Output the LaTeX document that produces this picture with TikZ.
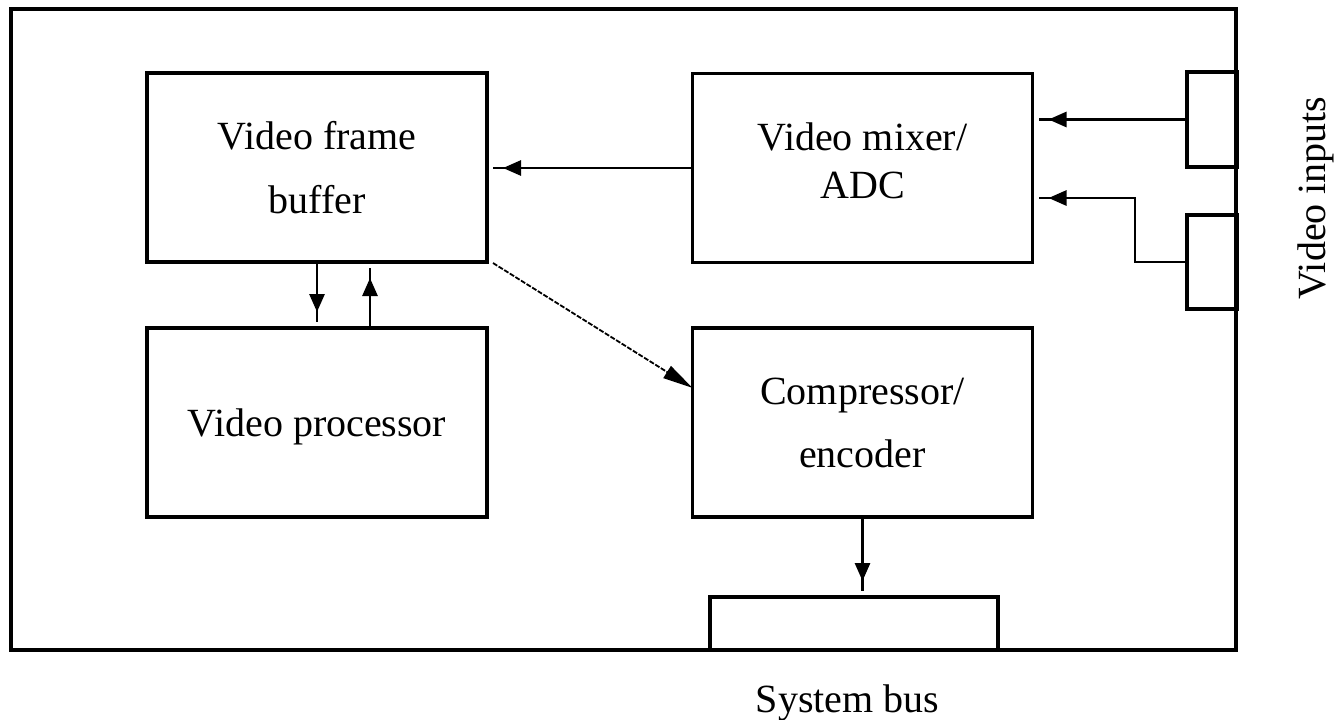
\documentclass[tikz,border=0pt]{standalone}
\usepackage{fontspec}
\setmainfont{Liberation Serif}
\usetikzlibrary{arrows.meta,calc,decorations.markings}

\tikzset{
  card/.style={draw, line width=2pt, inner sep=0pt, outer sep=0pt,
    minimum width=612.5pt, minimum height=320.5pt},
  block/.style={draw, line width=1.6pt, inner sep=0pt, outer sep=0pt,
    minimum width=170pt, minimum height=94.5pt, align=center,
    font=\fontsize{20}{24}\selectfont},
  port/.style={draw, line width=1.6pt, inner sep=0pt, outer sep=0pt},
  caption/.style={font=\fontsize{20}{24}\selectfont, inner sep=0pt},
  % signal line: gap before the target, short stub beyond the head
  flow/.style={line width=1.4pt, shorten >=3pt,
    postaction={decorate},
    decoration={markings,
      mark=at position -8pt with {\arrow{Triangle[length=9pt,width=7.5pt]}}}},
  link/.style={line width=0.9pt, dash pattern=on 2.5pt off 0.8pt,
    -{Triangle[length=15pt,width=7pt]}},
}

\begin{document}
\begin{tikzpicture}[x=0.5pt,y=-0.5pt]
\useasboundingbox (0,0) rectangle (1336,719);

% capture card outline
\node[card] (board) at (623.5,329.5) {};

% functional blocks
\node[block] (buf)  at (317,167.5)   {Video frame\\[8pt]buffer};
\node[block, text depth=7pt] (mix) at (862.5,168) {Video mixer/\\ADC};
\node[block, text depth=0pt] (proc) at (317,422.5) {Video processor};
\node[block] (comp) at (862.5,422.5) {Compressor/\\[7.5pt]encoder};

% connectors on the card edge
\node[port, minimum width=25pt, minimum height=47.5pt] (in1) at (1212,119.5) {};
\node[port, minimum width=25pt, minimum height=47pt]   (in2) at (1212,262) {};
\node[port, minimum width=144pt, minimum height=26.5pt] (bus) at (854,623.5) {};

% labels
\node[caption, anchor=base] (buslabel) at (847.5,712) {System bus};
\node[caption, anchor=base, rotate=90] (inlabel) at (1325,198) {Video inputs};

% signal paths
\coordinate (mixin2) at ($(mix.east)+(0,30)$);
\coordinate (bend2) at (1135,0);
\draw[flow] (in1.west) -- (in1.west -| mix.east);
\draw[flow] (in2.west) -- (in2.west -| bend2) |- (mixin2);
\draw[flow] (mix.west) -- (mix.west -| buf.east);
\draw[flow] (buf.south) -- (proc.north);
\draw[flow] ($(proc.north)+(53,0)$) -- ($(buf.south)+(53,0)$);
\draw[flow] (comp.south) -- (comp.south |- bus.north);
\draw[link] ($(buf.south east)+(6,1)$) -- ($(comp.north west)!0.317!(comp.south west)$);
\end{tikzpicture}
\end{document}
